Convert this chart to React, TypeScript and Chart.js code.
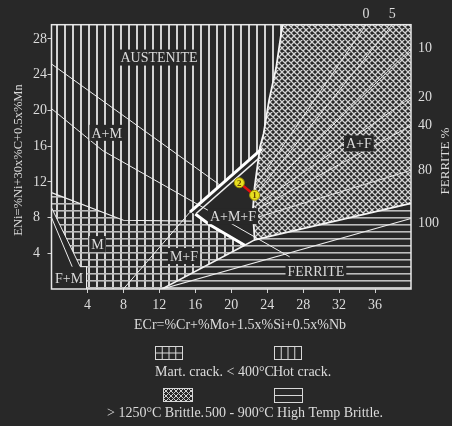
import React, { useEffect, useRef } from "react";
import { Chart, registerables } from "chart.js";

Chart.register(...registerables);

type Pt = [number, number];

// ---- axes ----
const X_RANGE: Pt = [0, 40];
const Y_RANGE: Pt = [0, 29.6];
const ecrTicks = [4, 8, 12, 16, 20, 24, 28, 32, 36];
const eniTicks = [4, 8, 12, 16, 20, 24, 28];
const ferriteRightValues = [26.9, 21.45, 18.3, 13.3, 7.4];
const ferriteRightLabels = ["10", "20", "40", "80", "100"];
const ferriteTopValues = [35.0, 37.9];
const ferriteTopLabels = ["0", "5"];

// ---- zones (ECr, ENi) ----
const hotCrackZone: Pt[] = [
  [0, 29.6], [25.7, 29.6], [25.0, 24.8], [24.2, 21.1], [23.6, 17.4], [23.4, 15.7],
  [15.4, 8.6], [16.0, 8.4], [17.6, 7.2], [21.5, 4.9], [12.3, 0], [3.9, 0],
  [3.9, 2.5], [3.2, 2.5], [0, 9.1],
];
const martCrackZone: Pt[] = [
  [0, 10.8], [8, 7.7], [15.6, 7.6], [17.6, 7.2], [21.5, 4.9], [12.3, 0],
  [3.9, 0], [3.9, 2.5], [3.2, 2.5], [0, 9.1],
];
const highTempZone: Pt[] = [[12.3, 0], [40, 0], [40, 9.6], [22.6, 5.5], [21.5, 4.9]];
const brittleZone: Pt[] = [
  [25.7, 29.6], [40, 29.6], [40, 9.6], [22.6, 5.5], [22.4, 8.8], [22.6, 11.4],
  [23.2, 15.9], [23.6, 17.4], [24.2, 21.1], [25.0, 24.8],
];

// ---- boundary lines ----
const afBoundary: Pt[] = [
  [25.7, 29.6], [25.0, 24.8], [24.2, 21.1], [23.6, 17.4], [23.2, 15.9],
  [22.6, 11.4], [22.4, 8.8], [22.6, 5.5], [40, 9.6],
];
const amLine1: Pt[] = [[0, 25.2], [18.8, 11.6]];
const amLine2: Pt[] = [[0, 20.2], [5.7, 15.5], [16.4, 9.4], [26.5, 3.6]];
const martTop: Pt[] = [[0, 10.8], [8, 7.7], [15.6, 7.6]];
const dilution: Pt[] = [[8, 0], [15.4, 8.6]];
const amfUpper: Pt[] = [[15.4, 8.6], [23.4, 15.7]];
const amfUpperInner: Pt[] = [[16.1, 8.45], [23.25, 14.8]];
const amfLower: Pt[] = [[16.0, 8.4], [17.6, 7.2], [21.5, 4.9]];
const ferriteEdge: Pt[] = [[12.3, 0], [21.5, 4.9], [22.6, 5.5]];
const ferrite100: Pt[] = [[12.3, 0], [40, 7.9]];
const fmOuter: Pt[] = [[0, 9.1], [3.2, 2.5], [3.9, 2.5], [3.9, 0]];
const fmInner: Pt[] = [[0, 8.0], [2.3, 2.5]];
const iso0: Pt[] = [[22.6, 11.4], [35.0, 29.6]];
const iso5: Pt[] = [[22.7, 10.6], [37.9, 29.6]];
const iso10: Pt[] = [[22.8, 10.0], [40, 26.9]];
const iso20: Pt[] = [[22.8, 9.4], [40, 21.45]];
const iso40: Pt[] = [[22.8, 8.9], [40, 18.3]];
const iso80: Pt[] = [[22.8, 8.0], [40, 13.3]];

// ---- region names ----
const regionNames = ["AUSTENITE", "A+M", "A+F", "A+M+F", "M", "M+F", "F+M", "FERRITE"];
const regionX = [11.96, 6.14, 34.2, 20.19, 5.12, 14.74, 1.95, 29.42];
const regionY = [25.92, 17.49, 16.3, 8.16, 5.03, 3.69, 1.23, 2.01];

// ---- weld samples ----
const sampleIds = ["2", "1"];
const sampleX = [20.9, 22.6];
const sampleY = [11.9, 10.5];

// ---- texts ----
const xTitle = "ECr=%Cr+%Mo+1.5x%Si+0.5x%Nb";
const yTitle = "ENi=%Ni+30x%C+0.5x%Mn";
const rightTitle = "FERRITE %";
const legendTexts = ["Mart. crack. < 400°C", "Hot crack.", "> 1250°C Brittle.", "500 - 900°C High Temp Brittle."];

const BG = "#282828";
const FG = "#dcdcdc";
const FONT = "'Liberation Serif', 'Times New Roman', serif";

function makePattern(w: number, h: number, draw: (g: CanvasRenderingContext2D) => void) {
  const c = document.createElement("canvas");
  c.width = w;
  c.height = h;
  const g = c.getContext("2d")!;
  draw(g);
  return g.createPattern(c, "repeat")!;
}

function diamondDraw(g: CanvasRenderingContext2D, s: number) {
  g.strokeStyle = "#d4d4d4";
  g.lineWidth = 1.3;
  g.beginPath();
  for (let k = -1; k <= 1; k++) {
    g.moveTo(k * s, 0);
    g.lineTo(k * s + s, s);
    g.moveTo(k * s + s, 0);
    g.lineTo(k * s, s);
  }
  g.stroke();
}

const toPts = (a: Pt[]) => a.map(([x, y]) => ({ x, y }));

export default function App() {
  const ref = useRef<HTMLCanvasElement | null>(null);

  useEffect(() => {
    document.body.style.margin = "0";
    document.body.style.background = BG;
    const canvas = ref.current!;

    const vertical = makePattern(8, 8, (g) => {
      g.fillStyle = "#d2d2d2";
      g.fillRect(0, 0, 2, 8);
    });
    const horizontal = makePattern(8, 7, (g) => {
      g.fillStyle = "#bdbdbd";
      g.fillRect(0, 0, 8, 1.6);
    });
    const diamond = makePattern(6, 6, (g) => diamondDraw(g, 6));

    const zone = (a: Pt[], bg: any, order: number) => ({
      data: toPts(a),
      showLine: true,
      fill: "shape",
      backgroundColor: bg,
      borderColor: "rgba(0,0,0,0)",
      borderWidth: 0,
      pointRadius: 0,
      tension: 0,
      order,
    });
    const line = (a: Pt[], width: number, color: string, order = 5) => ({
      data: toPts(a),
      showLine: true,
      fill: false,
      borderColor: color,
      borderWidth: width,
      pointRadius: 0,
      tension: 0,
      order,
    });

    const fitW = (w: number) => (s: any) => { s.width = w; };
    const fitH = (h: number) => (s: any) => { s.height = h; };
    const setTicks = (vals: number[]) => (s: any) => { s.ticks = vals.map((v) => ({ value: v })); };
    const tickFont = { family: FONT, size: 14 };

    const overlay = {
      id: "overlay",
      afterDatasetsDraw(chart: any) {
        const { ctx, chartArea: a, scales } = chart;
        ctx.save();
        ctx.strokeStyle = "#e8e8e8";
        ctx.lineWidth = 1.5;
        ctx.strokeRect(a.left, a.top, a.right - a.left, a.bottom - a.top);
        ctx.font = `14px ${FONT}`;
        ctx.textAlign = "center";
        ctx.textBaseline = "middle";
        regionNames.forEach((t, i) => {
          const x = scales.x.getPixelForValue(regionX[i]);
          const y = scales.y.getPixelForValue(regionY[i]);
          const w = ctx.measureText(t).width;
          ctx.fillStyle = BG;
          ctx.fillRect(x - w / 2 - 2, y - 8, w + 4, 16);
          ctx.fillStyle = FG;
          ctx.fillText(t, x, y + 1);
        });
        ctx.font = `bold 9px ${FONT}`;
        ctx.fillStyle = "#6a4a00";
        sampleIds.forEach((t, i) => {
          ctx.fillText(t, scales.x.getPixelForValue(sampleX[i]), scales.y.getPixelForValue(sampleY[i]) + 0.5);
        });
        ctx.restore();
      },
      afterDraw(chart: any) {
        const { ctx } = chart;
        ctx.save();
        ctx.fillStyle = FG;
        ctx.textBaseline = "middle";
        ctx.textAlign = "center";
        // axis titles
        ctx.font = `14px ${FONT}`;
        ctx.fillText(xTitle, 240, 325);
        ctx.save();
        ctx.translate(19, 160);
        ctx.rotate(-Math.PI / 2);
        ctx.font = `12.5px ${FONT}`;
        ctx.fillText(yTitle, 0, 0);
        ctx.restore();
        ctx.save();
        ctx.translate(446, 161);
        ctx.rotate(-Math.PI / 2);
        ctx.font = `13px ${FONT}`;
        ctx.fillText(rightTitle, 0, 0);
        ctx.restore();
        // legend
        ctx.strokeStyle = "#d8d8d8";
        ctx.lineWidth = 1;
        const box = (x: number, y: number, w: number, h: number) => {
          ctx.strokeRect(x + 0.5, y + 0.5, w, h);
        };
        // grid icon
        box(155, 346, 27, 13);
        ctx.beginPath();
        for (let i = 1; i < 4; i++) { ctx.moveTo(155.5 + (27 * i) / 4, 346.5); ctx.lineTo(155.5 + (27 * i) / 4, 359.5); }
        ctx.moveTo(155.5, 353); ctx.lineTo(182.5, 353);
        ctx.stroke();
        // vertical icon
        box(274, 346, 27, 13);
        ctx.beginPath();
        for (let i = 1; i < 4; i++) { ctx.moveTo(274.5 + (27 * i) / 4, 346.5); ctx.lineTo(274.5 + (27 * i) / 4, 359.5); }
        ctx.stroke();
        // diamond icon
        ctx.save();
        ctx.beginPath();
        ctx.rect(163.5, 388.5, 29, 13);
        ctx.clip();
        ctx.translate(163.5, 388.5);
        for (let ix = 0; ix < 6; ix++) {
          for (let iy = 0; iy < 3; iy++) {
            ctx.save();
            ctx.translate(ix * 5, iy * 5);
            ctx.strokeStyle = "#d0d0d0";
            ctx.lineWidth = 1;
            ctx.beginPath();
            ctx.moveTo(0, 0); ctx.lineTo(5, 5); ctx.moveTo(5, 0); ctx.lineTo(0, 5);
            ctx.stroke();
            ctx.restore();
          }
        }
        ctx.restore();
        box(163, 388, 29, 13);
        // horizontal icon
        box(274, 388, 28, 14);
        ctx.beginPath();
        ctx.moveTo(274.5, 395.5); ctx.lineTo(302.5, 395.5);
        ctx.stroke();
        // legend texts
        ctx.font = `14px ${FONT}`;
        ctx.textAlign = "left";
        ctx.fillText(legendTexts[0], 155, 372);
        ctx.fillText(legendTexts[1], 273, 372);
        ctx.fillText(legendTexts[2], 107, 413);
        ctx.fillText(legendTexts[3], 205, 413);
        ctx.restore();
      },
    };

    const chart = new Chart(canvas, {
      type: "scatter",
      data: {
        datasets: [
          zone(hotCrackZone, vertical, 20),
          zone(martCrackZone, horizontal, 19),
          zone(highTempZone, horizontal, 18),
          zone(brittleZone, diamond, 17),
          line(iso0, 1, "#e0e0e0", 6),
          line(iso5, 1, "#e0e0e0", 6),
          line(iso10, 1, "#e0e0e0", 6),
          line(iso20, 1, "#e0e0e0", 6),
          line(iso40, 1, "#e0e0e0", 6),
          line(iso80, 1, "#e0e0e0", 6),
          line(ferrite100, 1.2, "#eeeeee", 6),
          line(amLine1, 1, "#eeeeee"),
          line(amLine2, 1, "#eeeeee"),
          line(martTop, 1.2, "#eeeeee"),
          line(dilution, 1, "#eeeeee"),
          line(fmOuter, 1, "#eeeeee"),
          line(fmInner, 1, "#eeeeee"),
          line(ferriteEdge, 1.5, "#f2f2f2"),
          line(afBoundary, 1.8, "#f4f4f4", 4),
          line(amfUpper, 3, "#ffffff", 3),
          line(amfUpperInner, 1.5, "#f0f0f0", 3),
          line(amfLower, 3, "#ffffff", 3),
          {
            data: sampleX.map((x, i) => ({ x, y: sampleY[i] })),
            showLine: true,
            fill: false,
            borderColor: "#e01010",
            borderWidth: 2.5,
            pointRadius: 5,
            pointBackgroundColor: "#e8e020",
            pointBorderColor: "#a09000",
            pointBorderWidth: 1,
            order: 0,
          },
        ] as any,
      },
      options: {
        animation: false,
        responsive: false,
        devicePixelRatio: 1,
        events: [],
        layout: { padding: { left: 33, right: 0, top: 0, bottom: 90 } },
        plugins: { legend: { display: false }, tooltip: { enabled: false } },
        scales: {
          x: {
            type: "linear",
            position: "bottom",
            min: X_RANGE[0],
            max: X_RANGE[1],
            afterFit: fitH(47),
            afterBuildTicks: setTicks(ecrTicks),
            grid: { display: true, drawOnChartArea: false, drawTicks: true, tickLength: 4, color: "#d0d0d0" },
            border: { display: false },
            ticks: { color: FG, font: tickFont, padding: 4, autoSkip: false, maxRotation: 0 },
          },
          x2: {
            type: "linear",
            position: "top",
            min: X_RANGE[0],
            max: X_RANGE[1],
            afterFit: fitH(24.7),
            afterBuildTicks: setTicks(ferriteTopValues),
            grid: { display: false, drawTicks: false },
            border: { display: false },
            ticks: {
              color: FG,
              font: tickFont,
              padding: 2,
              autoSkip: false,
              maxRotation: 0,
              callback: (v: any) => ferriteTopLabels[ferriteTopValues.indexOf(Number(v))] ?? "",
            },
          },
          y: {
            type: "linear",
            position: "left",
            min: Y_RANGE[0],
            max: Y_RANGE[1],
            afterFit: fitW(18.5),
            afterBuildTicks: setTicks(eniTicks),
            grid: { display: true, drawOnChartArea: false, drawTicks: true, tickLength: 4, color: "#d0d0d0" },
            border: { display: false },
            ticks: { color: FG, font: tickFont, padding: 1, autoSkip: false, crossAlign: "far" },
          },
          y2: {
            type: "linear",
            position: "right",
            min: Y_RANGE[0],
            max: Y_RANGE[1],
            afterFit: fitW(41),
            afterBuildTicks: setTicks(ferriteRightValues),
            grid: { display: false, drawTicks: false },
            border: { display: false },
            ticks: {
              color: FG,
              font: tickFont,
              padding: 7,
              autoSkip: false,
              callback: (v: any) => ferriteRightLabels[ferriteRightValues.indexOf(Number(v))] ?? "",
            },
          },
        },
      } as any,
      plugins: [overlay],
    });

    return () => chart.destroy();
  }, []);

  return (
    <div style={{ width: 452, height: 426, background: BG }}>
      <canvas ref={ref} width={452} height={426} style={{ display: "block" }} />
    </div>
  );
}
